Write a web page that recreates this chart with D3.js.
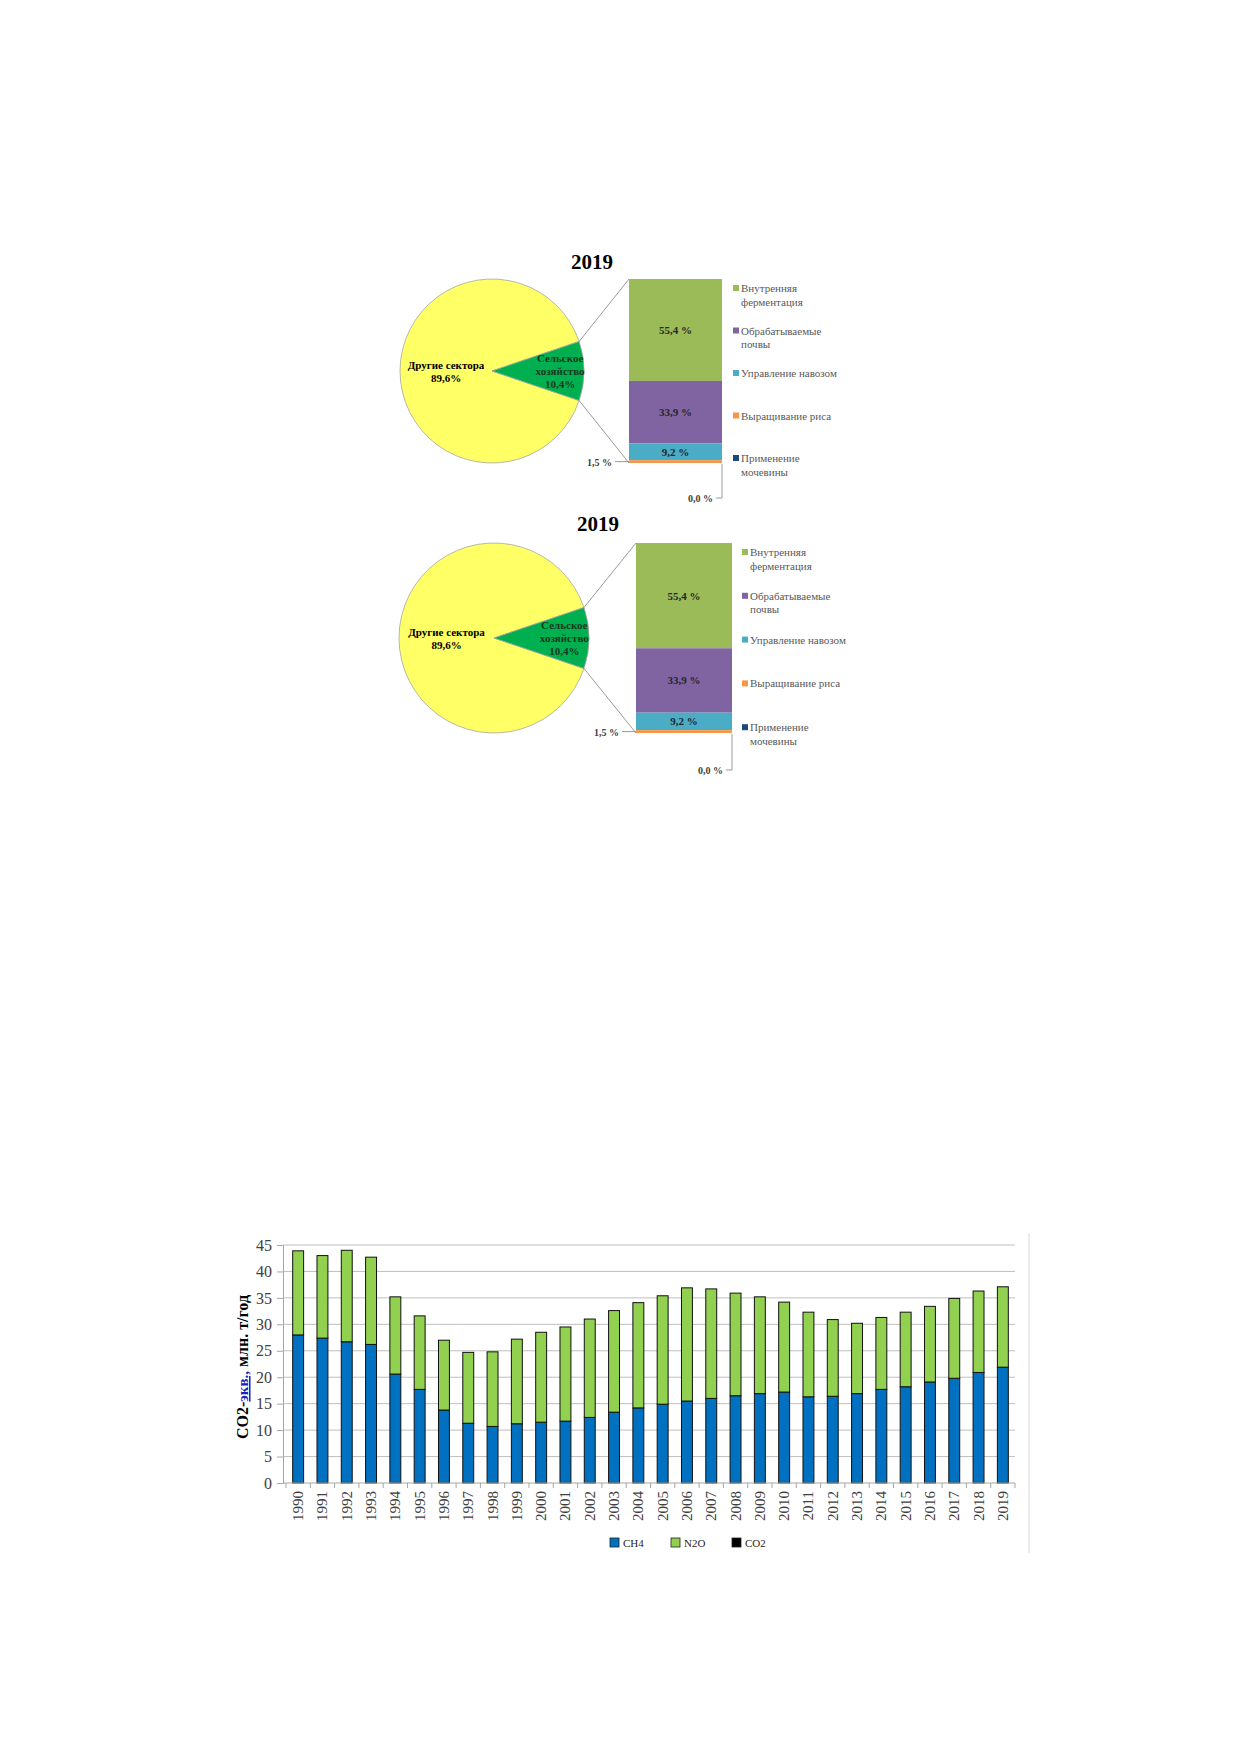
<!DOCTYPE html>
<html>
<head>
<meta charset="utf-8">
<script src="https://cdn.jsdelivr.net/npm/d3@7"></script>
<style>
  body { margin: 0; background: #fff; }
  svg { display: block; }
</style>
</head>
<body>
<script>
// --- pie + breakdown data (2019)
const pieTitle = '2019';
const pieLabels = ['Другие сектора', 'Сельское\nхозяйство'];
const pieValues = [89.6, 10.4];
const agriCategories = ['Внутренняя\nферментация', 'Обрабатываемые\nпочвы', 'Управление навозом', 'Выращивание риса', 'Применение\nмочевины'];
const agriValues = [55.4, 33.9, 9.2, 1.5, 0.0];

// --- emissions by year, mln t CO2-eq
const years = ['1990', '1991', '1992', '1993', '1994', '1995', '1996', '1997', '1998', '1999',
    '2000', '2001', '2002', '2003', '2004', '2005', '2006', '2007', '2008', '2009',
    '2010', '2011', '2012', '2013', '2014', '2015', '2016', '2017', '2018', '2019'];
const ch4 = [28.0, 27.4, 26.7, 26.2, 20.6, 17.7, 13.8, 11.3, 10.7, 11.2,
    11.5, 11.7, 12.4, 13.4, 14.2, 14.9, 15.5, 16.0, 16.5, 16.9,
    17.2, 16.3, 16.4, 16.9, 17.7, 18.2, 19.1, 19.8, 20.9, 21.9];
const n2o = [15.9, 15.6, 17.3, 16.5, 14.6, 13.9, 13.2, 13.4, 14.1, 16.0,
    17.0, 17.8, 18.6, 19.2, 19.9, 20.5, 21.4, 20.7, 19.4, 18.3,
    17.0, 16.0, 14.5, 13.3, 13.6, 14.1, 14.3, 15.1, 15.4, 15.2];
const co2 = [0, 0, 0, 0, 0, 0, 0, 0, 0, 0,
    0, 0, 0, 0, 0, 0, 0, 0, 0, 0,
    0, 0, 0, 0, 0, 0, 0, 0, 0, 0];
const gases = ['CH4', 'N2O', 'CO2'];
const yTicks = [0, 5, 10, 15, 20, 25, 30, 35, 40, 45];

const serif = '"Liberation Serif", "Times New Roman", serif';
const pieColors = ['#ffff66', '#00b050'];
const agriColors = ['#9bbb59', '#8064a2', '#4bacc6', '#f79646', '#1f497d'];
const gasColors = { CH4: '#0070c0', N2O: '#92d050', CO2: '#000000' };

const ru = d3.formatLocale({ decimal: ',', thousands: ' ', grouping: [3], currency: ['', ''] });
const fmt1 = ru.format('.1f');

const svg = d3.select('body').append('svg')
    .attr('width', 1240)
    .attr('height', 1754);

// multi-line text helper
const lines = (sel, str, lh) => {
    const parts = str.split('\n');
    parts.forEach((p, i) => {
        sel.append('tspan')
            .attr('x', sel.attr('x'))
            .attr('dy', i === 0 ? (-(parts.length - 1) * lh / 2) + 'px' : lh + 'px')
            .text(p);
    });
};

const drawPanel = (cfg) => {
    const g = svg.append('g');

    g.append('text')
        .attr('x', cfg.titleX)
        .attr('y', cfg.titleY)
        .attr('text-anchor', 'middle')
        .attr('font-family', serif)
        .attr('font-weight', 'bold')
        .attr('font-size', 21)
        .text(pieTitle);

    // pie, agriculture slice centred on the right
    const half = pieValues[1] / d3.sum(pieValues) * Math.PI;
    const pie = d3.pie()
        .sort(null)
        .startAngle(Math.PI / 2 + half)
        .endAngle(Math.PI / 2 + half + 2 * Math.PI)(pieValues);

    const arc = d3.arc().innerRadius(0).outerRadius(cfg.r);
    const pg = g.append('g').attr('transform', `translate(${cfg.cx},${cfg.cy})`);

    pg.selectAll('path')
        .data(pie)
        .enter().append('path')
        .attr('d', arc)
        .attr('fill', (d, i) => pieColors[i])
        .attr('stroke', '#a6a6a6')
        .attr('stroke-width', 0.8);

    const labelRadius = [cfg.r * 0.5, cfg.r * 0.74];
    const labelColor = ['#000', '#173a1c'];
    pie.forEach((d, i) => {
        const c = d3.arc().innerRadius(labelRadius[i]).outerRadius(labelRadius[i]).centroid(d);
        const t = pg.append('text')
            .attr('x', c[0])
            .attr('y', c[1] + 4)
            .attr('text-anchor', 'middle')
            .attr('font-family', serif)
            .attr('font-weight', 'bold')
            .attr('font-size', 11)
            .attr('fill', labelColor[i]);
        lines(t, pieLabels[i] + '\n' + fmt1(pieValues[i]) + '%', 13);
    });

    // stacked breakdown bar
    const y = d3.scaleLinear().domain([0, d3.sum(agriValues)]).range([cfg.barTop, cfg.barBottom]);
    const cum = d3.cumsum([0].concat(agriValues));
    const segs = agriValues.map((v, i) => ({ v, i, y0: cum[i], y1: cum[i + 1] }));

    // connector lines from the slice edges to the bar corners
    const green = pie[1];
    const edge = (a) => [cfg.cx + cfg.r * Math.sin(a), cfg.cy - cfg.r * Math.cos(a)];
    const pTop = edge(green.startAngle);
    const pBot = edge(green.endAngle);
    g.append('line')
        .attr('x1', pTop[0]).attr('y1', pTop[1])
        .attr('x2', cfg.barX0).attr('y2', cfg.barTop)
        .attr('stroke', '#808080').attr('stroke-width', 0.8);
    g.append('line')
        .attr('x1', pBot[0]).attr('y1', pBot[1])
        .attr('x2', cfg.barX0).attr('y2', cfg.barBottom)
        .attr('stroke', '#808080').attr('stroke-width', 0.8);

    g.selectAll('rect.seg')
        .data(segs.filter(d => d.v > 0))
        .enter().append('rect')
        .attr('class', 'seg')
        .attr('x', cfg.barX0)
        .attr('width', cfg.barX1 - cfg.barX0)
        .attr('y', d => y(d.y0))
        .attr('height', d => y(d.y1) - y(d.y0))
        .attr('fill', d => agriColors[d.i]);

    segs.forEach((d) => {
        const mid = (y(d.y0) + y(d.y1)) / 2;
        const label = fmt1(d.v) + ' %';
        const t = g.append('text')
            .attr('font-family', serif)
            .attr('font-weight', 'bold')
            .attr('font-size', 11)
            .attr('fill', '#262626');
        if (d.v >= 3) {
            t.attr('x', (cfg.barX0 + cfg.barX1) / 2).attr('y', mid + 4)
                .attr('text-anchor', 'middle').text(label);
        } else if (d.v > 0) {
            g.append('line')
                .attr('x1', cfg.barX0 - 14).attr('x2', cfg.barX0)
                .attr('y1', mid).attr('y2', mid)
                .attr('stroke', '#808080').attr('stroke-width', 0.8);
            t.attr('x', cfg.barX0 - 17).attr('y', mid + 4)
                .attr('text-anchor', 'end').attr('font-size', 10).attr('fill', '#404040').text(label);
        } else {
            const yy = cfg.barBottom + cfg.zeroDrop;
            g.append('path')
                .attr('d', `M${cfg.barX1},${cfg.barBottom + 1}V${yy}H${cfg.barX1 - 6}`)
                .attr('fill', 'none')
                .attr('stroke', '#808080').attr('stroke-width', 0.8);
            t.attr('x', cfg.barX1 - 9).attr('y', yy + 4)
                .attr('text-anchor', 'end').attr('font-size', 10).attr('fill', '#404040').text(label);
        }
    });

    // legend
    const lg = g.selectAll('g.leg')
        .data(agriCategories)
        .enter().append('g')
        .attr('class', 'leg')
        .attr('transform', (d, i) => `translate(${cfg.legX},${cfg.legY + i * cfg.legStep})`);
    lg.append('rect')
        .attr('x', 0).attr('y', -3)
        .attr('width', 6).attr('height', 6)
        .attr('fill', (d, i) => agriColors[i]);
    lg.append('text')
        .attr('font-family', serif)
        .attr('font-size', 11)
        .attr('fill', '#595959')
        .each(function (d) {
            const parts = d.split('\n');
            parts.forEach((p, k) => {
                d3.select(this).append('tspan')
                    .attr('x', 8)
                    .attr('y', 4 + k * 13.5)
                    .text(p);
            });
        });
};

drawPanel({
    titleX: 592, titleY: 269,
    cx: 492, cy: 371, r: 92,
    barX0: 629, barX1: 722, barTop: 279, barBottom: 463, zeroDrop: 35,
    legX: 733, legY: 288, legStep: 42.5
});
drawPanel({
    titleX: 598, titleY: 531,
    cx: 494, cy: 638, r: 95,
    barX0: 636, barX1: 732, barTop: 543, barBottom: 733, zeroDrop: 37,
    legX: 742, legY: 552, legStep: 43.8
});

// --- stacked bar chart by year
const plotLeft = 283, plotRight = 1015, plotTop = 1245, plotBottom = 1483;
const bandLeft = 286;

const x = d3.scaleBand()
    .domain(years)
    .range([bandLeft, plotRight])
    .paddingInner(0.55)
    .paddingOuter(0.275);

const y = d3.scaleLinear()
    .domain([0, 45])
    .range([plotBottom, plotTop]);

const rows = years.map((yr, i) => ({ year: yr, CH4: ch4[i], N2O: n2o[i], CO2: co2[i] }));
const stack = d3.stack().keys(gases)(rows);

const chart = svg.append('g');

// frame fragment on the right
chart.append('line')
    .attr('x1', 1029).attr('x2', 1029)
    .attr('y1', 1233).attr('y2', 1553)
    .attr('stroke', '#d9d9d9');

chart.append('g')
    .selectAll('line')
    .data(yTicks.filter(v => v > 0))
    .enter().append('line')
    .attr('x1', plotLeft).attr('x2', plotRight)
    .attr('y1', d => y(d)).attr('y2', d => y(d))
    .attr('stroke', '#bfbfbf');

const yAxis = chart.append('g')
    .attr('transform', `translate(${plotLeft},0)`)
    .call(d3.axisLeft(y).tickValues(yTicks).tickSize(6).tickPadding(5));
yAxis.select('.domain').attr('stroke', '#a6a6a6');
yAxis.selectAll('.tick line').attr('stroke', '#a6a6a6');
yAxis.selectAll('.tick text')
    .attr('font-family', serif)
    .attr('font-size', 16)
    .attr('fill', '#404040');

chart.append('g')
    .selectAll('g')
    .data(stack)
    .enter().append('g')
    .attr('fill', d => gasColors[d.key])
    .selectAll('rect')
    .data(d => d.filter(s => s[1] - s[0] > 0))
    .enter().append('rect')
    .attr('x', d => x(d.data.year))
    .attr('width', x.bandwidth())
    .attr('y', d => y(d[1]))
    .attr('height', d => y(d[0]) - y(d[1]))
    .attr('stroke', '#111')
    .attr('stroke-width', 1);

// x axis: ticks at category boundaries
const xg = chart.append('g');
xg.append('line')
    .attr('x1', plotLeft).attr('x2', plotRight)
    .attr('y1', plotBottom).attr('y2', plotBottom)
    .attr('stroke', '#a6a6a6');
xg.selectAll('line.tk')
    .data(years.concat(['end']))
    .enter().append('line')
    .attr('class', 'tk')
    .attr('x1', (d, i) => bandLeft + i * x.step())
    .attr('x2', (d, i) => bandLeft + i * x.step())
    .attr('y1', plotBottom).attr('y2', plotBottom + 5)
    .attr('stroke', '#a6a6a6');
xg.selectAll('text')
    .data(years)
    .enter().append('text')
    .attr('transform', d => `translate(${x(d) + x.bandwidth() / 2 + 5},${plotBottom + 8}) rotate(-90)`)
    .attr('text-anchor', 'end')
    .attr('font-family', serif)
    .attr('font-size', 15)
    .attr('fill', '#404040')
    .text(d => d);

// y axis title
const yt = chart.append('text')
    .attr('transform', 'translate(248,1367) rotate(-90)')
    .attr('text-anchor', 'middle')
    .attr('font-family', serif)
    .attr('font-weight', 'bold')
    .attr('font-size', 16)
    .attr('fill', '#000');
yt.append('tspan').text('CO2-');
yt.append('tspan').attr('fill', '#1f1fbf').attr('text-decoration', 'underline').attr('font-size', 15).text('экв.,');
yt.append('tspan').text(' млн. т/год');

// legend
const legX = [610, 671, 732];
const glg = chart.selectAll('g.gl')
    .data(gases)
    .enter().append('g')
    .attr('class', 'gl')
    .attr('transform', (d, i) => `translate(${legX[i]},1538)`);
glg.append('rect')
    .attr('width', 9).attr('height', 9)
    .attr('fill', d => gasColors[d])
    .attr('stroke', '#222')
    .attr('stroke-width', 0.8);
glg.append('text')
    .attr('x', 13).attr('y', 8.5)
    .attr('font-family', serif)
    .attr('font-size', 11)
    .attr('fill', '#262626')
    .text(d => d);
</script>
</body>
</html>
